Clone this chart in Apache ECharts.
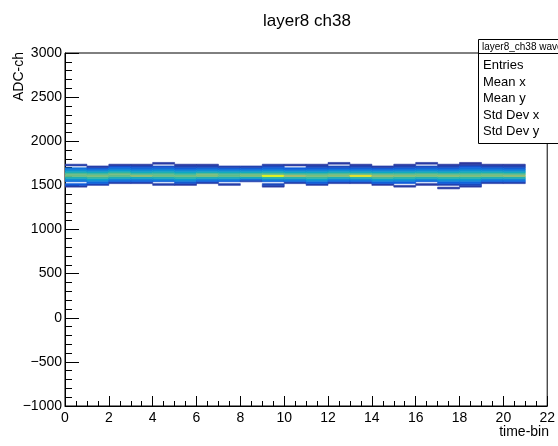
<!DOCTYPE html>
<html>
<head>
<meta charset="utf-8">
<script src="https://cdn.jsdelivr.net/npm/echarts@6/dist/echarts.min.js"></script>
<style>
  html, body { margin: 0; padding: 0; background: #fff; }
  #chart { width: 558px; height: 446px; }
</style>
</head>
<body>
<div id="chart"></div>
<script>
// lower edge of each ADC bin (20 ADC wide)
const adcLow = [1460, 1480, 1500, 1520, 1540, 1560, 1580, 1600, 1620, 1640, 1660, 1680, 1700, 1720, 1740]
const adcBinWidth = 20
const timeBins = [0, 1, 2, 3, 4, 5, 6, 7, 8, 9, 10, 11, 12, 13, 14, 15, 16, 17, 18, 19, 20]

// counts per time bin, one value per ADC bin
const t0 = [0, 4, 12, 0, 18, 30, 45, 60, 58, 45, 32, 20, 0, 5, 0]
const t1 = [0, 0, 6, 15, 25, 38, 52, 62, 55, 42, 28, 15, 5, 0, 0]
const t2 = [0, 0, 0, 5, 15, 28, 45, 58, 60, 50, 35, 22, 12, 4, 0]
const t3 = [0, 0, 0, 5, 14, 26, 42, 66, 55, 42, 30, 18, 10, 4, 0]
const t4 = [0, 0, 5, 0, 15, 30, 45, 60, 56, 45, 32, 20, 10, 0, 4]
const t5 = [0, 0, 4, 10, 22, 35, 50, 60, 52, 40, 28, 15, 8, 4, 0]
const t6 = [0, 0, 0, 5, 14, 28, 45, 62, 60, 44, 30, 18, 8, 4, 0]
const t7 = [0, 0, 5, 0, 14, 28, 44, 58, 55, 42, 28, 15, 6, 0, 0]
const t8 = [0, 0, 0, 0, 6, 20, 42, 62, 58, 42, 28, 15, 6, 0, 0]
const t9 = [0, 4, 8, 0, 15, 30, 48, 100, 58, 45, 30, 18, 10, 5, 0]
const t10 = [0, 0, 0, 5, 16, 30, 48, 70, 55, 40, 26, 14, 0, 4, 0]
const t11 = [0, 0, 5, 12, 24, 38, 52, 62, 55, 40, 26, 15, 8, 4, 0]
const t12 = [0, 0, 0, 5, 14, 28, 45, 64, 58, 44, 30, 16, 8, 0, 4]
const t13 = [0, 0, 0, 5, 15, 30, 48, 95, 58, 42, 28, 16, 8, 4, 0]
const t14 = [0, 0, 4, 12, 24, 38, 54, 66, 56, 40, 26, 14, 5, 0, 0]
const t15 = [0, 4, 0, 12, 22, 36, 50, 64, 56, 42, 28, 16, 8, 4, 0]
const t16 = [0, 0, 4, 0, 15, 30, 46, 62, 58, 44, 30, 18, 9, 0, 4]
const t17 = [4, 0, 6, 12, 24, 36, 50, 64, 56, 42, 28, 16, 8, 4, 0]
const t18 = [0, 4, 8, 14, 24, 36, 50, 62, 56, 44, 32, 20, 12, 6, 3]
const t19 = [0, 0, 0, 5, 15, 28, 46, 62, 58, 44, 30, 18, 9, 4, 0]
const t20 = [0, 0, 0, 5, 15, 28, 46, 66, 56, 42, 28, 16, 8, 4, 0]
const counts = [t0, t1, t2, t3, t4, t5, t6, t7, t8, t9, t10, t11, t12, t13, t14, t15, t16, t17, t18, t19, t20]

const statLabels = ['Entries', 'Mean x', 'Mean y', 'Std Dev x', 'Std Dev y']

// ROOT kBird palette
const birdColors = ['#352a87', '#0f5cdd', '#1481d6', '#06a4ca', '#2eb7a4', '#87bf77', '#d1bb59', '#fec832', '#f9fb0e']

const font = "'Liberation Sans', Arial, Helvetica, sans-serif"

const cells = []
timeBins.forEach((t, i) => {
  counts[i].forEach((c, j) => {
    if (c > 0) cells.push([t, adcLow[j], c])
  })
})

const chart = echarts.init(document.getElementById('chart'), null, { renderer: 'canvas' })

const statTexts = statLabels.map((s, i) => ({
  type: 'text',
  x: 483,
  y: [65, 82, 98, 115, 131][i],
  z: 101,
  style: { text: s, font: '13px ' + font, fill: '#000', verticalAlign: 'middle' }
}))

chart.setOption({
  animation: false,
  backgroundColor: '#fff',
  grid: {
    left: 65,
    right: 9,
    top: 53,
    bottom: 40,
    show: true,
    borderColor: '#000',
    borderWidth: 1,
    backgroundColor: 'transparent'
  },
  xAxis: {
    type: 'value',
    min: 0,
    max: 22,
    interval: 2,
    axisLine: { onZero: false, lineStyle: { color: '#000', width: 1 } },
    axisTick: { inside: true, length: 10, lineStyle: { color: '#000' } },
    minorTick: { show: true, splitNumber: 4, length: 5, lineStyle: { color: '#000' } },
    splitLine: { show: false },
    axisLabel: { margin: 5, fontSize: 14, color: '#000', fontFamily: font }
  },
  yAxis: {
    type: 'value',
    min: -1000,
    max: 3000,
    interval: 500,
    axisLine: { show: true, onZero: false, lineStyle: { color: '#000', width: 1 } },
    axisTick: { show: true, inside: true, length: 14, lineStyle: { color: '#000' } },
    minorTick: { show: true, splitNumber: 5, length: 7, lineStyle: { color: '#000' } },
    splitLine: { show: false },
    axisLabel: {
      margin: 3,
      fontSize: 14,
      color: '#000',
      fontFamily: font,
      formatter: v => String(v).replace('-', '\u2212')
    }
  },
  visualMap: {
    show: false,
    type: 'continuous',
    dimension: 2,
    seriesIndex: 0,
    min: 0,
    max: 100,
    inRange: { color: birdColors }
  },
  series: [{
    type: 'custom',
    coordinateSystem: 'cartesian2d',
    encode: { x: 0, y: 1 },
    data: cells,
    clip: true,
    renderItem(params, api) {
      const p0 = api.coord([api.value(0), api.value(1) + adcBinWidth])
      const p1 = api.coord([api.value(0) + 1, api.value(1)])
      const c = api.visual('color')
      return {
        type: 'rect',
        shape: { x: p0[0], y: p0[1], width: p1[0] - p0[0], height: p1[1] - p0[1] },
        style: { fill: c, stroke: c, lineWidth: 0.6 }
      }
    }
  }],
  graphic: [
    {
      type: 'text', left: 263, top: 13, z: 100,
      style: { text: 'layer8 ch38', font: '17px ' + font, fill: '#000' }
    },
    {
      type: 'text', x: 19, y: 52, rotation: Math.PI / 2, z: 100,
      style: { text: 'ADC-ch', font: '14px ' + font, fill: '#000', align: 'right', verticalAlign: 'middle' }
    },
    {
      type: 'text', x: 549, y: 432, z: 100,
      style: { text: 'time-bin', font: '14px ' + font, fill: '#000', align: 'right', verticalAlign: 'middle' }
    },
    {
      type: 'rect', z: 100,
      shape: { x: 478.5, y: 39.5, width: 100, height: 104 },
      style: { fill: '#fff', stroke: '#000', lineWidth: 1 }
    },
    {
      type: 'line', z: 101,
      shape: { x1: 478.5, y1: 53.5, x2: 578, y2: 53.5 },
      style: { stroke: '#000', lineWidth: 1 }
    },
    {
      type: 'text', x: 482, y: 47, z: 101,
      style: { text: 'layer8_ch38 waveform', font: '10px ' + font, fill: '#000', verticalAlign: 'middle' }
    }
  ].concat(statTexts)
})
</script>
</body>
</html>
